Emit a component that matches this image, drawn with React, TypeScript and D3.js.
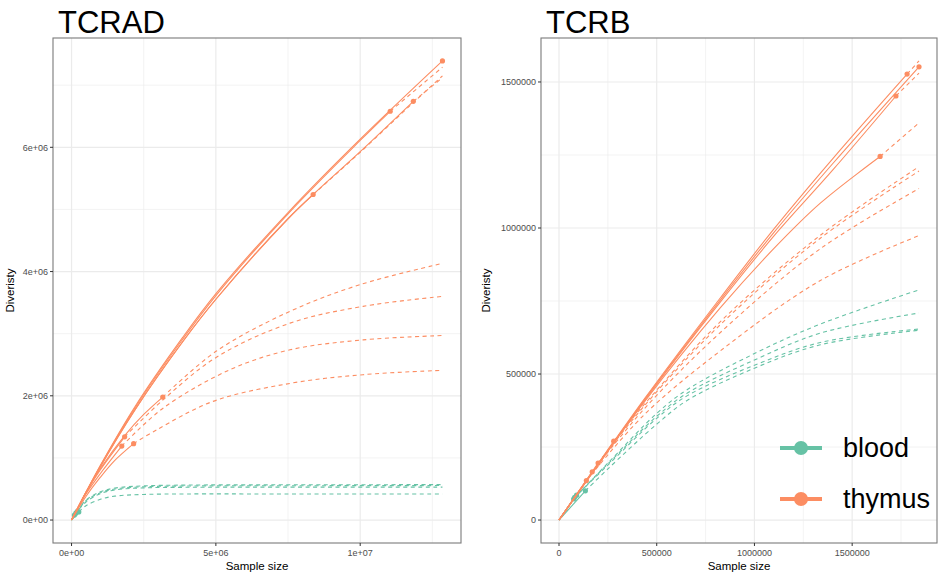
import React from "react";
import * as d3 from "d3";

const BLOOD = "#66c2a5";
const THYMUS = "#fc8d62";

// ---- TCRAD panel: sample size vs diversity, obs = index of the observed point
const tcradXTicks = [0, 5e6, 1e7];
const tcradXLabels = ["0e+00", "5e+06", "1e+07"];
const tcradYTicks = [0, 2e6, 4e6, 6e6];
const tcradYLabels = ["0e+00", "2e+06", "4e+06", "6e+06"];

const tcradBlood = [
  { x: [0, 0.15e6, 0.5e6, 1e6, 1.5e6, 2.5e6, 4e6, 7e6, 12.85e6], y: [0, 0.11e6, 0.31e6, 0.44e6, 0.5e6, 0.535e6, 0.548e6, 0.552e6, 0.555e6], obs: 1 },
  { x: [0, 0.2e6, 0.5e6, 1e6, 1.5e6, 2.5e6, 4e6, 7e6, 12.85e6], y: [0, 0.14e6, 0.32e6, 0.455e6, 0.515e6, 0.55e6, 0.563e6, 0.567e6, 0.57e6], obs: 1 },
  { x: [0, 0.1e6, 0.5e6, 1e6, 1.5e6, 2.5e6, 4e6, 7e6, 12.85e6], y: [0, 0.08e6, 0.29e6, 0.425e6, 0.485e6, 0.518e6, 0.527e6, 0.53e6, 0.53e6], obs: 1 },
  { x: [0, 0.25e6, 0.5e6, 1e6, 1.5e6, 2.5e6, 4e6, 7e6, 12.85e6], y: [0, 0.13e6, 0.23e6, 0.335e6, 0.385e6, 0.412e6, 0.42e6, 0.42e6, 0.42e6], obs: 1 },
];

const tcradThymus = [
  { x: [0, 1e6, 2.19e6, 3.85e6, 5.03e6, 7.5e6, 10e6, 12.85e6], y: [0, 0.88e6, 1.82e6, 2.94e6, 3.66e6, 4.95e6, 6.13e6, 7.39e6], obs: 7 },
  { x: [0, 1e6, 2.19e6, 3.85e6, 5.03e6, 7.5e6, 10e6, 11.04e6, 12.85e6], y: [0, 0.875e6, 1.8e6, 2.91e6, 3.63e6, 4.93e6, 6.11e6, 6.58e6, 7.29e6], obs: 7 },
  { x: [0, 1e6, 2.19e6, 3.85e6, 5.03e6, 7.5e6, 8.37e6, 10e6, 11.84e6, 12.85e6], y: [0, 0.86e6, 1.77e6, 2.87e6, 3.57e6, 4.85e6, 5.24e6, 5.92e6, 6.72e6, 7.15e6], obs: 6 },
  { x: [0, 1e6, 2.19e6, 3.85e6, 5.03e6, 7.5e6, 8.37e6, 10e6, 11.84e6, 12.85e6], y: [0, 0.86e6, 1.77e6, 2.87e6, 3.57e6, 4.85e6, 5.24e6, 5.93e6, 6.74e6, 7.12e6], obs: 8 },
  { x: [0, 0.5e6, 1e6, 1.84e6, 2.5e6, 3.16e6, 5.02e6, 7.57e6, 10e6, 12.84e6], y: [0, 0.45e6, 0.83e6, 1.36e6, 1.7e6, 1.98e6, 2.72e6, 3.36e6, 3.79e6, 4.13e6], obs: 5 },
  { x: [0, 0.5e6, 1e6, 1.84e6, 3.16e6, 5.02e6, 7.57e6, 10.1e6, 12.84e6], y: [0, 0.44e6, 0.81e6, 1.34e6, 1.93e6, 2.62e6, 3.17e6, 3.44e6, 3.6e6], obs: 3 },
  { x: [0, 0.5e6, 1e6, 1.74e6, 3.17e6, 5.49e6, 7.57e6, 10.1e6, 12.84e6], y: [0, 0.42e6, 0.75e6, 1.19e6, 1.8e6, 2.42e6, 2.74e6, 2.9e6, 2.97e6], obs: 3 },
  { x: [0, 0.5e6, 1e6, 1.5e6, 2.15e6, 2.94e6, 4.9e6, 7.57e6, 10.1e6, 12.84e6], y: [0, 0.38e6, 0.69e6, 0.96e6, 1.23e6, 1.45e6, 1.91e6, 2.2e6, 2.34e6, 2.41e6], obs: 4 },
];

// ---- TCRB panel
const tcrbXTicks = [0, 500000, 1000000, 1500000];
const tcrbXLabels = ["0", "500000", "1000000", "1500000"];
const tcrbYTicks = [0, 500000, 1000000, 1500000];
const tcrbYLabels = ["0", "500000", "1000000", "1500000"];

const tcrbBlood = [
  { x: [0, 0.075e6, 0.25e6, 0.503e6, 0.657e6, 1e6, 1.337e6, 1.842e6], y: [0, 0.072e6, 0.195e6, 0.367e6, 0.447e6, 0.57e6, 0.671e6, 0.788e6], obs: 1 },
  { x: [0, 0.09e6, 0.25e6, 0.503e6, 0.657e6, 1e6, 1.337e6, 1.842e6], y: [0, 0.085e6, 0.192e6, 0.357e6, 0.435e6, 0.548e6, 0.64e6, 0.709e6], obs: 1 },
  { x: [0, 0.08e6, 0.25e6, 0.503e6, 0.657e6, 1e6, 1.337e6, 1.842e6], y: [0, 0.078e6, 0.188e6, 0.35e6, 0.426e6, 0.53e6, 0.608e6, 0.654e6], obs: 1 },
  { x: [0, 0.135e6, 0.25e6, 0.503e6, 0.657e6, 1e6, 1.337e6, 1.842e6], y: [0, 0.1e6, 0.175e6, 0.33e6, 0.41e6, 0.52e6, 0.6e6, 0.65e6], obs: 1 },
];

const tcrbThymus = [
  { x: [0, 0.435e6, 0.827e6, 1.1e6, 1.4e6, 1.842e6], y: [0, 0.41e6, 0.755e6, 0.985e6, 1.22e6, 1.552e6], obs: 5 },
  { x: [0, 0.435e6, 0.827e6, 1.1e6, 1.4e6, 1.781e6, 1.842e6], y: [0, 0.413e6, 0.762e6, 0.997e6, 1.237e6, 1.527e6, 1.572e6], obs: 5 },
  { x: [0, 0.435e6, 0.827e6, 1.1e6, 1.4e6, 1.724e6, 1.842e6], y: [0, 0.407e6, 0.748e6, 0.973e6, 1.198e6, 1.452e6, 1.53e6], obs: 5 },
  { x: [0, 0.435e6, 0.827e6, 1.1e6, 1.337e6, 1.643e6, 1.842e6], y: [0, 0.403e6, 0.728e6, 0.93e6, 1.085e6, 1.245e6, 1.36e6], obs: 5 },
  { x: [0, 0.28e6, 0.435e6, 0.827e6, 1.337e6, 1.842e6], y: [0, 0.27e6, 0.395e6, 0.68e6, 0.975e6, 1.21e6], obs: 1 },
  { x: [0, 0.2e6, 0.435e6, 0.827e6, 1.337e6, 1.842e6], y: [0, 0.195e6, 0.39e6, 0.67e6, 0.965e6, 1.195e6], obs: 1 },
  { x: [0, 0.17e6, 0.435e6, 0.827e6, 1.337e6, 1.842e6], y: [0, 0.165e6, 0.38e6, 0.643e6, 0.929e6, 1.135e6], obs: 1 },
  { x: [0, 0.14e6, 0.435e6, 0.827e6, 1.337e6, 1.842e6], y: [0, 0.135e6, 0.36e6, 0.58e6, 0.82e6, 0.974e6], obs: 1 },
];

const legendGroups = ["blood", "thymus"];
const legendColors = [BLOOD, THYMUS];

type Sample = { x: number[]; y: number[]; obs: number };

const FONT = "'Liberation Sans', Arial, Helvetica, sans-serif";

function Panel(props: {
  title: string;
  left: number;
  right: number;
  top: number;
  bottom: number;
  blood: Sample[];
  thymus: Sample[];
  xTicks: number[];
  xLabels: string[];
  yTicks: number[];
  yLabels: string[];
  yTitleX: number;
  legend?: boolean;
}) {
  const { left, right, top, bottom } = props;
  const all = [...props.blood, ...props.thymus];
  const xMax = d3.max(all, (s) => d3.max(s.x) as number) as number;
  const yMax = d3.max(all, (s) => d3.max(s.y) as number) as number;

  // ggplot style 5% expansion
  const x = d3.scaleLinear().domain([-0.05 * xMax, 1.05 * xMax]).range([left, right]);
  const y = d3.scaleLinear().domain([-0.05 * yMax, 1.05 * yMax]).range([bottom, top]);

  const line = d3
    .line<[number, number]>()
    .x((d) => x(d[0]))
    .y((d) => y(d[1]))
    .curve(d3.curveCatmullRom.alpha(0.5));

  //minor breaks sit halfway between the major ones
  const minor = (t: number[], dom: number[]) => {
    const s = t[1] - t[0];
    const out: number[] = [];
    for (let v = t[0] - s / 2; v <= dom[1]; v += s) if (v >= dom[0]) out.push(v);
    return out;
  };
  const xMinor = minor(props.xTicks, x.domain());
  const yMinor = minor(props.yTicks, y.domain());

  const drawSample = (s: Sample, color: string, i: number) => {
    const pts = s.x.map((v, k) => [v, s.y[k]] as [number, number]);
    const solid = pts.slice(0, s.obs + 1);
    const dashed = pts.slice(s.obs);
    return (
      <g key={color + i}>
        <path d={line(solid) || ""} fill="none" stroke={color} strokeWidth={1.1} />
        {dashed.length > 1 && (
          <path d={line(dashed) || ""} fill="none" stroke={color} strokeWidth={1.1} strokeDasharray="4,3.5" />
        )}
        <circle cx={x(s.x[s.obs])} cy={y(s.y[s.obs])} r={2.6} fill={color} />
      </g>
    );
  };

  return (
    <g fontFamily={FONT}>
      <text x={left + 5} y={top - 5} fontSize={31} fill="#000">
        {props.title}
      </text>
      <rect x={left} y={top} width={right - left} height={bottom - top} fill="#fff" />
      {xMinor.map((v) => (
        <line key={"xm" + v} x1={x(v)} x2={x(v)} y1={top} y2={bottom} stroke="#ebebeb" strokeWidth={0.6} />
      ))}
      {yMinor.map((v) => (
        <line key={"ym" + v} x1={left} x2={right} y1={y(v)} y2={y(v)} stroke="#ebebeb" strokeWidth={0.6} />
      ))}
      {props.xTicks.map((v) => (
        <line key={"xg" + v} x1={x(v)} x2={x(v)} y1={top} y2={bottom} stroke="#ebebeb" strokeWidth={1.2} />
      ))}
      {props.yTicks.map((v) => (
        <line key={"yg" + v} x1={left} x2={right} y1={y(v)} y2={y(v)} stroke="#ebebeb" strokeWidth={1.2} />
      ))}
      {props.blood.map((s, i) => drawSample(s, BLOOD, i))}
      {props.thymus.map((s, i) => drawSample(s, THYMUS, i))}
      <rect x={left} y={top} width={right - left} height={bottom - top} fill="none" stroke="#7a7a7a" strokeWidth={1.1} />

      {/* axes */}
      {props.xTicks.map((v, i) => (
        <g key={"xt" + v}>
          <line x1={x(v)} x2={x(v)} y1={bottom} y2={bottom + 3} stroke="#333" strokeWidth={1} />
          <text x={x(v)} y={bottom + 13} fontSize={9} textAnchor="middle" fill="#4d4d4d">
            {props.xLabels[i]}
          </text>
        </g>
      ))}
      {props.yTicks.map((v, i) => (
        <g key={"yt" + v}>
          <line x1={left - 3} x2={left} y1={y(v)} y2={y(v)} stroke="#333" strokeWidth={1} />
          <text x={left - 5} y={y(v) + 3.2} fontSize={9} textAnchor="end" fill="#4d4d4d">
            {props.yLabels[i]}
          </text>
        </g>
      ))}
      <text x={(left + right) / 2} y={bottom + 27} fontSize={11.5} textAnchor="middle" fill="#000">
        Sample size
      </text>
      <text
        transform={`translate(${props.yTitleX},${(top + bottom) / 2}) rotate(-90)`}
        fontSize={11.5}
        textAnchor="middle"
        fill="#000"
      >
        Diveristy
      </text>

      {props.legend &&
        legendGroups.map((g, i) => {
          const cy = 448 + i * 51;
          return (
            <g key={g}>
              <line x1={780} x2={822} y1={cy} y2={cy} stroke={legendColors[i]} strokeWidth={4} />
              <circle cx={801} cy={cy} r={7} fill={legendColors[i]} />
              <text x={843} y={cy + 9} fontSize={27} fill="#000">
                {g}
              </text>
            </g>
          );
        })}
    </g>
  );
}

export default function App() {
  return (
    <svg width={945} height={577} style={{ position: "absolute", left: 0, top: 0, background: "#fff" }}>
      <rect width={945} height={577} fill="#fff" />
      <Panel
        title="TCRAD"
        left={53}
        right={461}
        top={38}
        bottom={543}
        blood={tcradBlood}
        thymus={tcradThymus}
        xTicks={tcradXTicks}
        xLabels={tcradXLabels}
        yTicks={tcradYTicks}
        yLabels={tcradYLabels}
        yTitleX={14}
      />
      <Panel
        title="TCRB"
        left={541}
        right={937}
        top={38}
        bottom={543}
        blood={tcrbBlood}
        thymus={tcrbThymus}
        xTicks={tcrbXTicks}
        xLabels={tcrbXLabels}
        yTicks={tcrbYTicks}
        yLabels={tcrbYLabels}
        yTitleX={490}
        legend
      />
    </svg>
  );
}
